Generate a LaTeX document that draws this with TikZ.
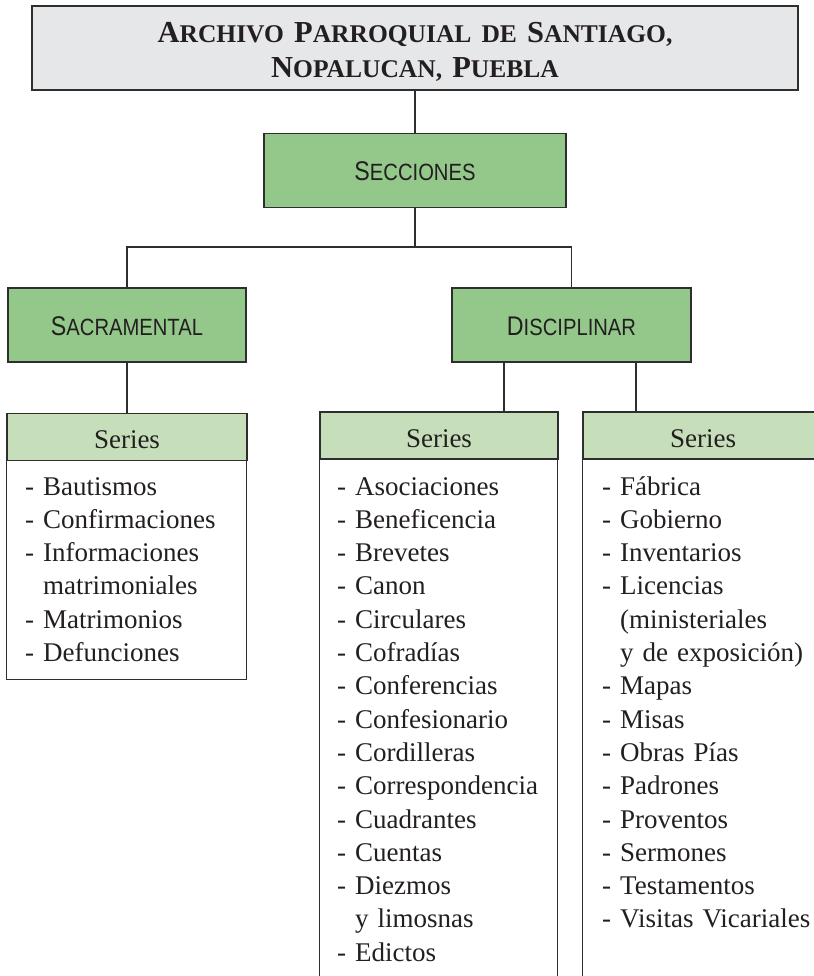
\documentclass[tikz,border=0pt]{standalone}
\usepackage{fontspec}
\setmainfont{Liberation Serif}
\newfontfamily\secfont[FakeStretch=0.86]{Liberation Sans}
\usepackage{tikz}
\usetikzlibrary{positioning}

\definecolor{linea}{HTML}{2E2E2E}
\definecolor{gristit}{HTML}{E6E7E8}
\definecolor{verdesec}{HTML}{93C88A}
\definecolor{verdeser}{HTML}{C6DFBA}
\definecolor{tinta}{HTML}{231F20}

% versalitas hechas a mano
\newcommand\versal[2]{{\fontsize{30.5}{35}\selectfont#1}{\fontsize{25.5}{35}\selectfont#2}}
\newcommand\seccap[2]{{\fontsize{27}{30}\selectfont#1}{\fontsize{23.5}{30}\selectfont#2}}
\newcommand\sangria{\hphantom{-\ }}

\begin{document}
\begin{tikzpicture}[x=1pt,y=-1pt,
  caja/.style={draw=linea, line width=1.2pt, text=tinta},
  titulo/.style={caja, fill=gristit, minimum width=766pt, minimum height=84pt, inner sep=3pt,
    text width=740pt, align=center, text height=30pt, text depth=40pt,
    font=\bfseries\fontsize{30.5}{35}\selectfont},
  seccion/.style={caja, fill=verdesec, minimum height=74pt, inner sep=0pt,
    text height=21pt, text depth=0pt, font=\secfont},
  serie/.style={caja, fill=verdeser, minimum width=240pt, minimum height=47pt, inner sep=0pt,
    text height=23pt, text depth=0pt, font=\fontsize{27}{33.3}\selectfont},
  lista/.style={anchor=base west, inner sep=0pt, text width=240pt, align=left, text=tinta,
    font=\fontsize{27}{33.3}\selectfont},
  conector/.style={draw=linea, line width=1.2pt}]
  \useasboundingbox (0,0) rectangle (813,976);
  % nodes %
  \node[titulo] (titulo) at (415,48) {\versal{A}{RCHIVO} \versal{P}{ARROQUIAL} \versal{}{DE} \versal{S}{ANTIAGO,}\\
    \versal{N}{OPALUCAN,} \versal{P}{UEBLA}};
  \node[seccion, minimum width=302pt, below=42pt of titulo] (secc) {\seccap{S}{ECCIONES}};
  \node[seccion, minimum width=238pt] (sacr) at (127,325) {\seccap{S}{ACRAMENTAL}};
  \node[seccion, minimum width=239pt] (disc) at (571.5,325) {\seccap{D}{ISCIPLINAR}};
  \node[serie, below=50pt of sacr] (serA) {Series};
  \node[serie, minimum width=238pt] (serB) at (439,435.5) {Series};
  \node[serie] (serC) at (703,435.5) {Series};
  % cajas de series %
  \draw[caja] (serA.south west) rectangle ++(240,219);
  \draw[caja] (serB.south west) rectangle ++(238,540);
  \draw[caja] (serC.south west) rectangle ++(240,540);
  \node[lista] (listaA) at (25,495) {- Bautismos\\- Confirmaciones\\- Informaciones\\
    \sangria matrimoniales\\- Matrimonios\\- Defunciones};
  \node[lista] (listaB) at (337,495) {- Asociaciones\\- Beneficencia\\- Brevetes\\- Canon\\
    - Circulares\\- Cofradías\\- Conferencias\\- Confesionario\\- Cordilleras\\
    - Correspondencia\\- Cuadrantes\\- Cuentas\\- Diezmos\\\sangria y limosnas\\- Edictos};
  \node[lista] (listaC) at (602,495) {- Fábrica\\- Gobierno\\- Inventarios\\- Licencias\\
    \sangria (ministeriales\\\sangria y de exposición)\\- Mapas\\- Misas\\- Obras Pías\\
    - Padrones\\- Proventos\\- Sermones\\- Testamentos\\- Visitas Vicariales};
  % edges %
  \coordinate (barra) at (secc.south |- 0,247);
  \coordinate (pieB) at (504,362);
  \coordinate (pieC) at (636,362);
  \draw[conector] (titulo) -- (secc);
  \draw[conector] (secc.south) -- (barra);
  \draw[conector] (sacr.north) |- (barra) -| (disc.north);
  \draw[conector] (sacr) -- (serA);
  \draw[conector] (pieB) -- (pieB |- serB.north);
  \draw[conector] (pieC) -- (pieC |- serC.north);
\end{tikzpicture}
\end{document}
